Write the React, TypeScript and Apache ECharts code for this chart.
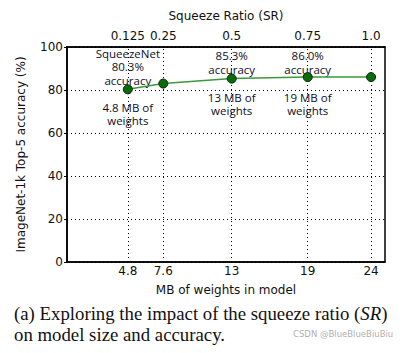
import React, { useEffect, useRef } from "react";
import * as echarts from "echarts";

const mbWeights = [4.8, 7.6, 13, 19, 24];
const squeezeRatios = ["0.125", "0.25", "0.5", "0.75", "1.0"];
const accuracy = [80.3, 83.0, 85.3, 86.0, 86.0];
const yTicks = [0, 20, 40, 60, 80, 100];

const annotations = [
  { coord: [4.8, 90.7], text: "SqueezeNet\n80.3%\naccuracy" },
  { coord: [4.8, 68.8], text: "4.8 MB of\nweights" },
  { coord: [13, 92.9], text: "85.3%\naccuracy" },
  { coord: [13, 73.4], text: "13 MB of\nweights" },
  { coord: [19, 92.9], text: "86.0%\naccuracy" },
  { coord: [19, 73.4], text: "19 MB of\nweights" },
];

const AX_FONT = "DejaVu Sans";

export default function App() {
  const ref = useRef<HTMLDivElement>(null);
  useEffect(() => {
    if (!ref.current) return;
    const chart = echarts.init(ref.current, null, { renderer: "svg" });
    const labelFmt = (v: number) => {
      const i = mbWeights.indexOf(v);
      return i >= 0 ? String(v) : "";
    };
    const srFmt = (v: number) => {
      const i = mbWeights.indexOf(v);
      return i >= 0 ? squeezeRatios[i] : "";
    };
    chart.setOption({
      animation: false,
      backgroundColor: "#fff",
      grid: {
        left: 67,
        right: 22,
        top: 47,
        bottom: 91,
        show: true,
        borderColor: "#000",
        borderWidth: 1.5,
        backgroundColor: "transparent",
      },
      xAxis: [
        {
          type: "value",
          position: "bottom",
          min: 0,
          max: 25.1,
          name: "MB of weights in model",
          nameLocation: "middle",
          nameGap: 22,
          nameTextStyle: { fontFamily: AX_FONT, fontSize: 12, color: "#111" },
          axisLine: { show: true, lineStyle: { color: "#000", width: 1.5 } },
          axisTick: { show: false },
          splitLine: { show: false },
          axisLabel: {
            customValues: mbWeights,
            formatter: labelFmt,
            fontFamily: AX_FONT,
            fontSize: 12,
            color: "#111",
            margin: 3,
          },
        },
        {
          type: "value",
          position: "top",
          min: 0,
          max: 25.1,
          name: "Squeeze Ratio (SR)",
          nameLocation: "middle",
          nameGap: 25,
          nameTextStyle: { fontFamily: AX_FONT, fontSize: 12, color: "#111" },
          axisLine: { show: true, lineStyle: { color: "#000", width: 1.5 } },
          axisTick: { show: false },
          splitLine: { show: false },
          axisLabel: {
            customValues: mbWeights,
            formatter: srFmt,
            fontFamily: AX_FONT,
            fontSize: 12,
            color: "#111",
            margin: 5,
          },
        },
      ],
      yAxis: {
        type: "value",
        min: 0,
        max: 100,
        interval: 20,
        name: "ImageNet-1k Top-5 accuracy (%)",
        nameLocation: "middle",
        nameGap: 40,
        nameTextStyle: { fontFamily: AX_FONT, fontSize: 12, color: "#111" },
        axisLine: { show: true, lineStyle: { color: "#000", width: 1.5 } },
        axisTick: { show: true, length: 3, lineStyle: { color: "#000" } },
        axisLabel: {
          fontFamily: AX_FONT,
          fontSize: 12,
          color: "#111",
          margin: 4,
          formatter: (v: number) => (yTicks.includes(v) ? String(v) : ""),
        },
        splitLine: { show: true, lineStyle: { color: "#000", type: [1, 3], width: 1 } },
      },
      series: [
        {
          type: "line",
          xAxisIndex: 0,
          data: mbWeights.map((x, i) => [x, accuracy[i]]),
          lineStyle: { color: "#3a9a3a", width: 1.5 },
          symbol: "circle",
          symbolSize: 9,
          itemStyle: { color: "#0b6b0b", borderColor: "#062806", borderWidth: 1 },
          z: 5,
          markLine: {
            silent: true,
            symbol: "none",
            label: { show: false },
            lineStyle: { color: "#000", type: [1, 3], width: 1 },
            data: mbWeights.map((x) => ({ xAxis: x })),
            z: 1,
          },
          markPoint: {
            silent: true,
            symbol: "circle",
            symbolSize: 0,
            label: {
              show: true,
              position: "inside",
              fontFamily: "Open Sans",
              fontSize: 11.5,
              lineHeight: 13.5,
              color: "#0e0e2a",
              formatter: (p: any) => p.data.text,
            },
            data: annotations.map((a) => ({ coord: a.coord, text: a.text })),
          },
        },
      ],
      graphic: [
        {
          type: "text",
          left: 14,
          top: 304,
          style: {
            text: "(a) Exploring the impact of the squeeze ratio ({i|SR})",
            fontFamily: "Liberation Serif",
            fontSize: 18.8,
            fill: "#111",
            rich: { i: { fontStyle: "italic", fontFamily: "Liberation Serif", fontSize: 18.8 } },
          },
        },
        {
          type: "text",
          left: 14,
          top: 325,
          style: {
            text: "on model size and accuracy.",
            fontFamily: "Liberation Serif",
            fontSize: 18.8,
            fill: "#111",
          },
        },
        {
          type: "text",
          left: 293,
          top: 329,
          style: {
            text: "CSDN @BlueBlueBiuBiu",
            fontFamily: "DejaVu Sans",
            fontSize: 8.5,
            fill: "#b0b0b0",
          },
        },
      ],
    });
    return () => chart.dispose();
  }, []);
  return (
    <div
      ref={ref}
      style={{ position: "fixed", left: 0, top: 0, width: 407, height: 353 }}
    />
  );
}
